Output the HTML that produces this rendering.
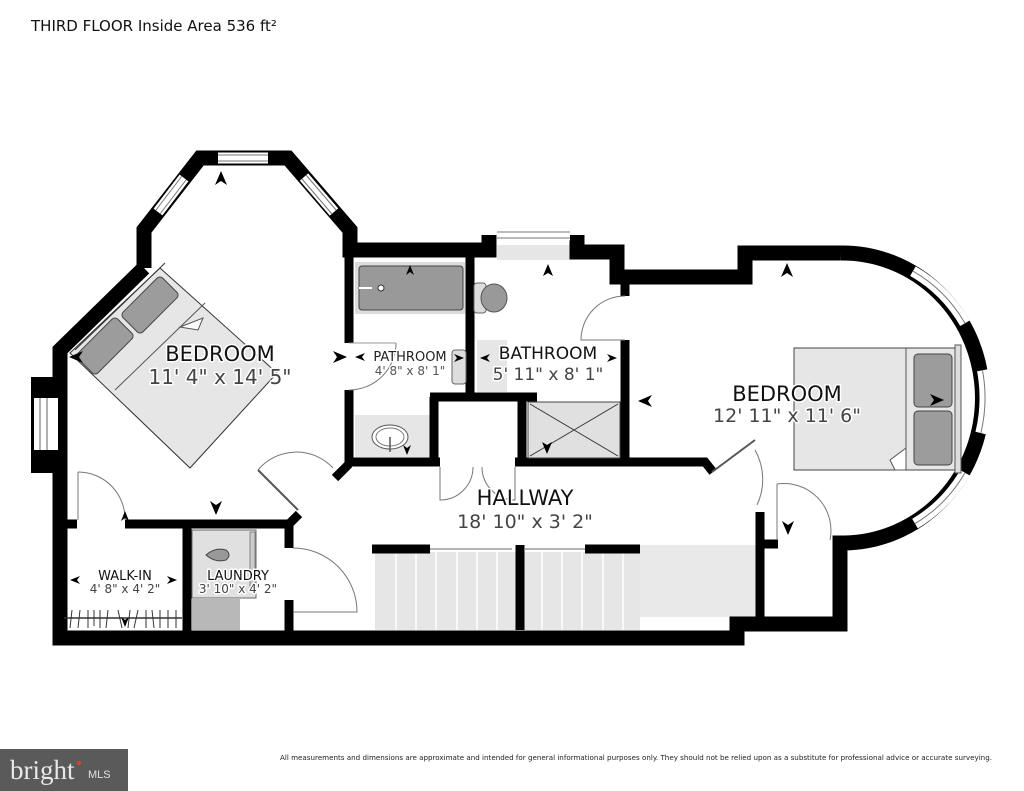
<!DOCTYPE html>
<html><head><meta charset="utf-8"><style>
html,body{margin:0;padding:0;background:#fff;}
svg{display:block;}
.lbl{font-family:"DejaVu Sans","Liberation Sans",sans-serif;paint-order:stroke;stroke:#fff;stroke-width:3px;stroke-linejoin:round;}
</style></head><body>
<svg width="1024" height="791" viewBox="0 0 1024 791" xmlns="http://www.w3.org/2000/svg">
<rect width="1024" height="791" fill="#fff"/>
<text x="31" y="31" font-family="DejaVu Sans,Liberation Sans,sans-serif" font-size="15" fill="#111">THIRD FLOOR Inside Area 536 ft²</text>

<rect x="375" y="552" width="265" height="78" fill="#e6e6e6"/>
<g stroke="#fff" stroke-width="1.5">
<line x1="396" y1="552" x2="396" y2="630"/><line x1="416" y1="552" x2="416" y2="630"/><line x1="436" y1="552" x2="436" y2="630"/><line x1="457" y1="552" x2="457" y2="630"/><line x1="477" y1="552" x2="477" y2="630"/><line x1="497" y1="552" x2="497" y2="630"/>
<line x1="542" y1="552" x2="542" y2="630"/><line x1="562" y1="552" x2="562" y2="630"/><line x1="582" y1="552" x2="582" y2="630"/><line x1="603" y1="552" x2="603" y2="630"/><line x1="623" y1="552" x2="623" y2="630"/>
</g>
<rect x="640" y="545" width="117" height="72" fill="#e9e9e9"/>
<rect x="355" y="415" width="75" height="42" fill="#e6e6e6"/>
<rect x="477" y="340" width="30" height="52" fill="#e6e6e6"/>
<rect x="497" y="245" width="73" height="15" fill="#e6e6e6"/>
<rect x="44" y="398" width="22" height="52" fill="#e6e6e6"/>

<g fill="none" stroke="#000" stroke-width="15" stroke-linejoin="miter">
<polyline points="144,268 144,230 200,158 288,158 350,230 350,250 489,250 489,235"/>
<polyline points="577,235 577,252 617,252 617,277 745,277 745,253 840,253"/>
<path d="M840,253 A140,145 0 0 1 845,543 L840,543 L840,624 L737,624 L737,638 L60,638 L60,350 L144,268"/>
</g>
<rect x="31" y="377" width="30" height="96" fill="#000"/>
<rect x="34" y="398" width="24" height="52" fill="#fff"/>
<line x1="40" y1="398" x2="40" y2="450" stroke="#666" stroke-width="1"/>
<line x1="47" y1="398" x2="47" y2="450" stroke="#666" stroke-width="1"/>
<g stroke="#fff" stroke-width="11" fill="none">
<line x1="218" y1="158" x2="268" y2="158"/>
<line x1="158" y1="212" x2="184" y2="178"/>
<line x1="304" y1="177" x2="334" y2="212"/>
<line x1="497" y1="235" x2="570" y2="235"/>
<path d="M912.9,271.1 A140,145 0 0 1 965,323.3"/>
<path d="M982.5,370.3 A140,145 0 0 1 980.8,433.1"/>
<path d="M965,472.7 A140,145 0 0 1 915,523.6"/>
</g>
<g stroke="#777" stroke-width="1" fill="none">
<line x1="218" y1="155" x2="268" y2="155"/><line x1="218" y1="161" x2="268" y2="161"/>
<line x1="156" y1="210" x2="182" y2="176"/><line x1="160" y1="214" x2="186" y2="180"/>
<line x1="306" y1="175" x2="336" y2="210"/><line x1="302" y1="179" x2="332" y2="214"/>
<line x1="497" y1="232" x2="570" y2="232"/><line x1="497" y1="238" x2="570" y2="238"/>
<path d="M912.9,271.1 A140,145 0 0 1 965,323.3"/>
<path d="M982.5,370.3 A140,145 0 0 1 980.8,433.1"/>
<path d="M965,472.7 A140,145 0 0 1 915,523.6"/>
</g>

<g stroke="#000" stroke-width="9" fill="none">
<line x1="349" y1="250" x2="349" y2="343"/>
<line x1="349" y1="390" x2="349" y2="466"/>
<line x1="470" y1="250" x2="470" y2="400"/>
<line x1="430" y1="397" x2="537" y2="397"/>
<line x1="434" y1="397" x2="434" y2="462"/>
<line x1="522" y1="397" x2="522" y2="462"/>
<line x1="625" y1="277" x2="625" y2="296"/>
<line x1="625" y1="340" x2="625" y2="462"/>
<polyline points="345,462 440,462"/>
<polyline points="515,462 705,462 713,472"/>
<line x1="349" y1="464" x2="335" y2="478"/>
<line x1="56" y1="524" x2="77" y2="524"/>
<line x1="125" y1="524" x2="290" y2="524"/>
<line x1="289" y1="524" x2="299" y2="514"/>
<line x1="187" y1="524" x2="187" y2="632"/>
<line x1="289" y1="524" x2="289" y2="548"/>
<line x1="289" y1="600" x2="289" y2="632"/>
<line x1="760" y1="512" x2="760" y2="620"/>
<line x1="756" y1="544" x2="778" y2="544"/>
<line x1="520" y1="545" x2="520" y2="630"/>
<line x1="372" y1="549" x2="430" y2="549"/>
<line x1="585" y1="549" x2="640" y2="549"/>
</g>
<g stroke="#888" stroke-width="1.2" fill="none">
<line x1="430" y1="549" x2="512" y2="549"/><line x1="525" y1="549" x2="585" y2="549"/>
</g>

<g stroke="#777" stroke-width="1" fill="none">
<path d="M349,390 A47,47 0 0 0 396,343"/><line x1="349" y1="343" x2="396" y2="343" stroke="#999"/>
<path d="M625,296 A44,44 0 0 0 581,340 L625,340"/>
<path d="M258,470 A50,50 0 0 1 333,468"/><line x1="258" y1="470" x2="298" y2="510" stroke="#555" stroke-width="2"/>
<path d="M78,472 A47,47 0 0 1 125,520"/><line x1="78" y1="472" x2="78" y2="520"/>
<path d="M293,548 A64,64 0 0 1 357,612 L293,612"/>
<path d="M440,467 L440,500 A33,33 0 0 0 473,467"/>
<path d="M515,467 L515,500 A33,33 0 0 1 482,467"/>
<path d="M755,450 A60,60 0 0 1 757,505"/><line x1="712" y1="472" x2="755" y2="440" stroke="#555" stroke-width="2"/>
<path d="M777,484 A47,47 0 0 1 830,540"/><line x1="777" y1="484" x2="777" y2="540"/>
</g>

<polygon points="160,268 277,373 190,468 70,353" fill="#e6e6e6" stroke="#333" stroke-width="1"/>
<line x1="75" y1="350" x2="165" y2="263" stroke="#333" stroke-width="1"/>
<line x1="115" y1="390" x2="205" y2="303" stroke="#555" stroke-width="1"/>
<g fill="#9c9c9c" stroke="#444" stroke-width="1">
<rect x="-28" y="-14" width="56" height="28" rx="4" transform="translate(105,346) rotate(-45)"/>
<rect x="-28" y="-14" width="56" height="28" rx="4" transform="translate(150,305) rotate(-45)"/>
</g>
<polygon points="180,327 203,318 198,330" fill="#fff" stroke="#555" stroke-width="1"/>
<rect x="794" y="348" width="167" height="122" fill="#e6e6e6" stroke="#444" stroke-width="1"/>
<line x1="906" y1="348" x2="906" y2="470" stroke="#555" stroke-width="1"/>
<rect x="955" y="345" width="6" height="128" fill="#ddd" stroke="#555" stroke-width="1"/>
<rect x="914" y="354" width="38" height="53" rx="4" fill="#9c9c9c" stroke="#444"/>
<rect x="914" y="411" width="38" height="54" rx="4" fill="#9c9c9c" stroke="#444"/>
<polygon points="906,448 890,460 895,470 906,470" fill="#fff" stroke="#555" stroke-width="1"/>

<rect x="355" y="262" width="110" height="52" fill="#dcdcdc"/>
<rect x="359" y="266" width="104" height="44" rx="3" fill="#999" stroke="#444"/>
<circle cx="381" cy="288" r="3" fill="#fff" stroke="#333"/>
<line x1="359" y1="288" x2="372" y2="288" stroke="#fff" stroke-width="2"/>
<rect x="474" y="283" width="12" height="30" rx="3" fill="#ddd" stroke="#666"/>
<ellipse cx="494" cy="298" rx="13" ry="14" fill="#999" stroke="#555"/>
<rect x="452" y="350" width="14" height="34" rx="3" fill="#ddd" stroke="#666"/>
<ellipse cx="390" cy="437" rx="18" ry="12" fill="#fff" stroke="#555"/>
<ellipse cx="390" cy="437" rx="14" ry="9" fill="#fff" stroke="#777"/>
<line x1="390" y1="437" x2="390" y2="452" stroke="#555" stroke-width="1.5"/>
<rect x="528" y="402" width="92" height="56" fill="#e0e0e0" stroke="#444"/>
<line x1="530" y1="404" x2="618" y2="456" stroke="#333"/><line x1="618" y1="404" x2="530" y2="456" stroke="#333"/>
<rect x="192" y="530" width="64" height="68" fill="#e0e0e0" stroke="#666"/>
<path d="M206,555 Q215,547 226,550 Q232,555 226,560 Q215,563 206,555 Z" fill="#999" stroke="#444"/>
<rect x="250" y="532" width="5" height="60" fill="#ccc" stroke="#666" stroke-width="0.7"/>
<rect x="192" y="598" width="48" height="32" fill="#b8b8b8"/>
<line x1="64" y1="618" x2="182" y2="618" stroke="#333" stroke-width="1.5"/>
<g stroke="#333" stroke-width="1">
<line x1="72" y1="610" x2="70" y2="628"/><line x1="80" y1="610" x2="78" y2="628"/><line x1="88" y1="610" x2="88" y2="628"/><line x1="94" y1="610" x2="94" y2="626"/><line x1="100" y1="610" x2="100" y2="628"/><line x1="108" y1="610" x2="106" y2="628"/><line x1="118" y1="610" x2="122" y2="628"/><line x1="130" y1="610" x2="128" y2="628"/><line x1="138" y1="610" x2="134" y2="628"/><line x1="146" y1="610" x2="146" y2="628"/><line x1="152" y1="610" x2="154" y2="628"/><line x1="160" y1="610" x2="160" y2="628"/><line x1="168" y1="610" x2="168" y2="628"/><line x1="176" y1="610" x2="176" y2="628"/>
</g>

<g fill="#000">
<path d="M0,-7 L6,7 L0,3 L-6,7 Z" transform="translate(221,178)"/>
<path d="M0,-5 L4,5 L0,2 L-4,5 Z" transform="translate(410,270)"/>
<path d="M0,-6 L5,6 L0,3 L-5,6 Z" transform="translate(548,270)"/>
<path d="M0,-7 L6,7 L0,3 L-6,7 Z" transform="translate(787,270)"/>
<path d="M0,-7 L6,7 L0,3 L-6,7 Z" transform="translate(216,508) rotate(180)"/>
<path d="M0,-7 L6,7 L0,3 L-6,7 Z" transform="translate(340,357) rotate(90)"/>
<path d="M0,-5 L4,5 L0,2 L-4,5 Z" transform="translate(360,357) rotate(-90)"/>
<path d="M0,-7 L6,7 L0,3 L-6,7 Z" transform="translate(76,357) rotate(-90)"/>
<path d="M0,-5 L4,5 L0,2 L-4,5 Z" transform="translate(125,516)"/>
<path d="M0,-5 L4,5 L0,2 L-4,5 Z" transform="translate(125,622) rotate(180)"/>
<path d="M0,-5 L4,5 L0,2 L-4,5 Z" transform="translate(75,580) rotate(-90)"/>
<path d="M0,-5 L4,5 L0,2 L-4,5 Z" transform="translate(172,580) rotate(90)"/>
<path d="M0,-5 L4,5 L0,2 L-4,5 Z" transform="translate(459,358) rotate(90)"/>
<path d="M0,-5 L4,5 L0,2 L-4,5 Z" transform="translate(485,358) rotate(-90)"/>
<path d="M0,-5 L4,5 L0,2 L-4,5 Z" transform="translate(612,358) rotate(90)"/>
<path d="M0,-5 L4,5 L0,2 L-4,5 Z" transform="translate(407,450) rotate(180)"/>
<path d="M0,-7 L6,7 L0,3 L-6,7 Z" transform="translate(645,401) rotate(-90)"/>
<path d="M0,-7 L6,7 L0,3 L-6,7 Z" transform="translate(937,400) rotate(90)"/>
<path d="M0,-6 L5,6 L0,3 L-5,6 Z" transform="translate(547,448) rotate(180)"/>
<path d="M0,-7 L6,7 L0,3 L-6,7 Z" transform="translate(788,528) rotate(180)"/>
</g>

<g class="lbl" text-anchor="middle">
<text x="220" y="361" font-size="21" fill="#111">BEDROOM</text>
<text x="220" y="384" font-size="20" fill="#444">11' 4" x 14' 5"</text>
<text x="410" y="361" font-size="13" fill="#222">PATHROOM</text>
<text x="410" y="375" font-size="12" fill="#555">4' 8" x 8' 1"</text>
<text x="548" y="359" font-size="17" fill="#111">BATHROOM</text>
<text x="548" y="380" font-size="17" fill="#444">5' 11" x 8' 1"</text>
<text x="787" y="401" font-size="21" fill="#111">BEDROOM</text>
<text x="787" y="422" font-size="19" fill="#444">12' 11" x 11' 6"</text>
<text x="525" y="505" font-size="21" fill="#111">HALLWAY</text>
<text x="525" y="528" font-size="19" fill="#444">18' 10" x 3' 2"</text>
<text x="125" y="580" font-size="13" fill="#111">WALK-IN</text>
<text x="125" y="593" font-size="12" fill="#444">4' 8" x 4' 2"</text>
<text x="238" y="580" font-size="13" fill="#111">LAUNDRY</text>
<text x="238" y="593" font-size="12" fill="#444">3' 10" x 4' 2"</text>
</g>

<text x="280" y="760" font-family="DejaVu Sans Condensed,Liberation Sans Narrow,Liberation Sans,sans-serif" font-size="7" fill="#222" textLength="712" lengthAdjust="spacingAndGlyphs">All measurements and dimensions are approximate and intended for general informational purposes only. They should not be relied upon as a substitute for professional advice or accurate surveying.</text>

<rect x="0" y="749" width="128" height="42" fill="#5a5a5a"/>
<text x="10" y="779" font-family="Liberation Serif,serif" font-size="27" fill="#e8e8e8">bright</text>
<circle cx="79" cy="763" r="2" fill="#e04020"/>
<text x="88" y="778" font-family="Liberation Sans,sans-serif" font-size="11" fill="#e0e0e0">MLS</text>
</svg>
</body></html>
